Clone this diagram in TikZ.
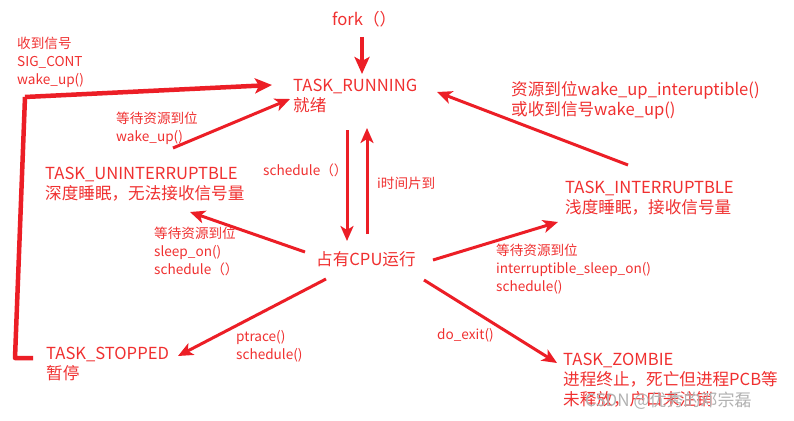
\documentclass[tikz,border=0pt]{standalone}
\usepackage{fontspec}
\setmainfont{Noto Sans CJK SC}
\usetikzlibrary{arrows.meta}
\definecolor{lred}{RGB}{236,30,38}
\definecolor{tred}{RGB}{240,48,48}
\begin{document}
\begin{tikzpicture}[x=1pt,y=-1pt,
  big/.style={font=\fontsize{16.6}{20}\selectfont, text=tred, inner sep=0pt, anchor=north west, align=left},
  small/.style={font=\fontsize{13.6}{18}\selectfont, text=tred, inner sep=0pt, anchor=north west, align=left},
  arr/.style={draw=lred, line width=3pt, -{Stealth[length=15pt,width=13pt,inset=4pt]}},
  thickarr/.style={draw=lred, line width=4.5pt, -{Stealth[length=17pt,width=15pt,inset=4pt]}},
  thickline/.style={draw=lred, line width=4.5pt, line join=round},
]
\useasboundingbox (0,0) rectangle (794,420);
\fill[white] (0,0) rectangle (794,420);

% state texts
\node[big] (fork) at (332,11) {fork（）};
\node[big] (run) at (293,79) {TASK\_RUNNING\\就绪};
\node[big] (unint) at (45,167) {TASK\_UNINTERRUPTBLE\\深度睡眠，无法接收信号量};
\node[big] (inter) at (565,181) {TASK\_INTERRUPTBLE\\浅度睡眠，接收信号量};
\node[big] (cpu) at (316,251) {占有CPU运行};
\node[big] (stop) at (46,347) {TASK\_STOPPED\\暂停};
\node[big] (zomb) at (563,353) {TASK\_ZOMBIE\\进程终止，死亡但进程PCB等\\未释放，户口未注销};

% edge labels
\node[small] (lsig) at (17,37) {收到信号\\SIG\_CONT\\wake\_up()};
\node[small] (lwake) at (116,112) {等待资源到位\\wake\_up()};
\node[small] (lsched) at (263,164) {schedule（）};
\node[small] (ltime) at (377,177) {i时间片到};
\node[big] (lint) at (511,81) {资源到位wake\_up\_interuptible()\\或收到信号wake\_up()};
\node[small] (lsleep) at (154,227) {等待资源到位\\sleep\_on()\\schedule（）};
\node[small] (lisleep) at (496,244) {等待资源到位\\interruptible\_sleep\_on()\\schedule()};
\node[small] (lptrace) at (236,330) {ptrace()\\schedule()};
\node[small] (lexit) at (437,328) {do\_exit()};

% watermark
\node[font=\fontsize{17}{20}\selectfont, text=black!30, inner sep=0pt, anchor=west] (wm) at (585,401) {CSDN @优秀的邓宗磊};

% anchor coordinates
\coordinate (forkA) at (362,37);
\coordinate (runTop) at (362,74);
\coordinate (runL) at (272,85);
\coordinate (runLL) at (290,99);
\coordinate (runR) at (437,92);
\coordinate (runDown) at (347,130);
\coordinate (runUp) at (367,128);
\coordinate (cpuTopL) at (347,241);
\coordinate (cpuTopR) at (367,234);
\coordinate (cpuL) at (305,252);
\coordinate (cpuR) at (433,260);
\coordinate (cpuBL) at (326,279);
\coordinate (cpuBR) at (424,280);
\coordinate (unintE) at (190,212);
\coordinate (interW) at (558,222);
\coordinate (interNW) at (628,165);
\coordinate (stopE) at (178,356);
\coordinate (stopW) at (33,358);
\coordinate (zombW) at (557,363);
\coordinate (wakeS) at (173,148);
\coordinate (c1) at (15,358);
\coordinate (c2) at (25,97);

% connectors
\draw[thickarr] (forkA) -- (runTop);
\draw[thickline] (stopW) -- (c1) -- (c2);
\draw[thickarr] (c2) -- (runL);
\draw[arr] (wakeS) -- (runLL);
\draw[arr] (runDown) -- (cpuTopL);
\draw[arr] (cpuTopR) -- (runUp);
\draw[arr] (interNW) -- (runR);
\draw[arr] (cpuL) -- (unintE);
\draw[arr] (cpuR) -- (interW);
\draw[arr] (cpuBL) -- (stopE);
\draw[arr] (cpuBR) -- (zombW);
\end{tikzpicture}
\end{document}
